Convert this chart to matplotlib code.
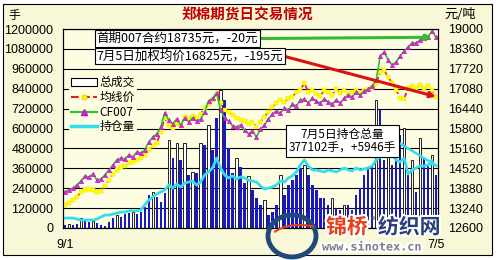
import matplotlib
matplotlib.use('Agg')
import matplotlib.pyplot as plt
import matplotlib.patches as mpatches
import matplotlib.patheffects as pe
from matplotlib.lines import Line2D
from matplotlib.ticker import FuncFormatter
import numpy as np

plt.rcParams['font.family'] = ['Noto Sans CJK SC', 'DejaVu Sans']

# daily data, 9/1 .. 7/5
date_labels = ['9/1', '7/5']

cf007 = [13760, 13820, 13885, 13985, 14110, 14270, 14240, 14335, 14145, 14175,
         14305, 14465, 14625, 14785, 14850, 14820, 14950, 14885, 15045, 15010,
         15110, 15365, 15525, 15625, 15850, 16300, 16075, 15945, 16105, 15910,
         16140, 16010, 16140, 16040, 16105, 16330, 16685, 16780, 16940, 16395,
         16140, 16040, 15880, 15850, 15910, 15750, 15625, 15720, 15525, 15785,
         15910, 16105, 16265, 16365, 16300, 16460, 16395, 16590, 16525, 16715,
         16750, 16620, 16780, 16685, 16620, 16750, 16650, 16590, 16715, 16620,
         16780, 16875, 16815, 16975, 16875, 17005, 17070, 17165, 17360, 18130,
         18260, 18005, 17840, 17940, 18130, 18290, 18420, 18550, 18550, 18645,
         18710, 18745, 18935, 18735]

avg_price = [13340, 13405, 13500, 13595, 13760, 13820, 13855, 13820, 13760, 13790,
             13950, 14145, 14335, 14465, 14560, 14595, 14690, 14725, 14785, 14850,
             14950, 15110, 15235, 15335, 15685, 16140, 15910, 15815, 15945, 15880,
             16170, 16105, 16200, 16140, 16265, 16460, 16590, 16715, 16940, 16620,
             16395, 16330, 16235, 16140, 16075, 16040, 15945, 16010, 15850, 16010,
             16170, 16330, 16490, 16620, 16715, 16650, 16780, 16815, 16975, 17040,
             17265, 16975, 17040, 16910, 16845, 17040, 16975, 16875, 17070, 16940,
             17040, 16910, 16975, 17040, 16940, 17005, 17070, 17100, 17230, 17615,
             17680, 17455, 17265, 17040, 16780, 16750, 17100, 17165, 17100, 17200,
             17100, 17165, 17040, 16825]

open_interest = [60000, 60000, 60000, 54000, 48000, 48000, 48000, 48000, 54000, 66000,
                 78000, 78000, 84000, 90000, 96000, 96000, 103000, 103000, 103000, 109000,
                 139000, 169000, 187000, 205000, 217000, 229000, 259000, 241000, 265000, 247000,
                 271000, 277000, 283000, 259000, 277000, 320000, 338000, 362000, 422000, 362000,
                 320000, 302000, 314000, 295000, 308000, 302000, 289000, 283000, 277000, 253000,
                 235000, 241000, 247000, 259000, 283000, 277000, 302000, 314000, 338000, 380000,
                 410000, 374000, 350000, 350000, 344000, 338000, 350000, 344000, 338000, 350000,
                 362000, 350000, 344000, 362000, 350000, 356000, 362000, 374000, 410000, 428000,
                 440000, 458000, 440000, 410000, 398000, 422000, 326000, 350000, 362000, 374000,
                 374000, 380000, 392000, 377102]

volume = [18000, 24000, 18000, 24000, 60000, 48000, 36000, 42000, 30000, 18000,
          12000, 36000, 60000, 78000, 66000, 84000, 90000, 96000, 84000, 96000,
          127000, 199000, 217000, 187000, 157000, 211000, 531000, 422000, 513000, 410000,
          513000, 320000, 338000, 332000, 513000, 500000, 621000, 470000, 663000, 832000,
          772000, 482000, 332000, 422000, 368000, 271000, 314000, 229000, 181000, 139000,
          169000, 78000, 96000, 139000, 320000, 199000, 259000, 289000, 320000, 362000,
          380000, 320000, 259000, 229000, 181000, 181000, 139000, 181000, 121000, 109000,
          139000, 139000, 109000, 199000, 241000, 320000, 362000, 380000, 772000, 712000,
          410000, 500000, 380000, 519000, 561000, 603000, 320000, 410000, 217000, 543000,
          422000, 380000, 440000, 320000]

note_contract = '首期007合约18735元，-20元'
note_avg = '7月5日加权均价16825元，-195元'
note_oi = '7月5日持仓总量\n377102手，+5946手'

BG = '#F8F8D8'
PLOT_BG = '#FDFDE2'
W, H = 496, 260

fig = plt.figure(figsize=(W / 100, H / 100), dpi=100, facecolor='white')
frame = mpatches.Rectangle((3 / W, 1 - 255 / H), 489 / W, 251 / H, transform=fig.transFigure,
                           facecolor=BG, edgecolor='black', lw=0.8, zorder=-1)
fig.patches.append(frame)

ax = fig.add_axes([63 / W, 1 - 228 / H, 375 / W, 199 / H])
ax.set_facecolor(PLOT_BG)
x = np.arange(len(volume))
vol = np.array(volume)
# white bars on local volume peaks, blue otherwise
prev = np.r_[vol[0], vol[:-1]]
nxt = np.r_[vol[1:], vol[-1]]
peak = (vol > prev) & (vol >= nxt)

# volume bars + open interest (left axis)
ax.bar(x[~peak], vol[~peak], width=0.6, color='#1818C8', lw=0, zorder=2)
ax.bar(x[peak], vol[peak], width=0.6, facecolor='white', edgecolor='black', lw=0.6, zorder=2)
ax.plot(x, open_interest, color='#33DDEE', lw=2, zorder=3)
ax.set_ylim(0, 1200000)
ax.set_yticks(np.arange(0, 1200001, 120000))
ax.yaxis.set_major_formatter(FuncFormatter(lambda v, _: f'{int(round(v))}'))
ax.set_xlim(-0.5, len(x) - 0.5)
ax.set_xticks([0, len(x) - 1])
ax.set_xticklabels(date_labels)
ax.yaxis.grid(True, color='black', lw=0.8)
ax.set_axisbelow(True)
ax.tick_params(axis='y', length=0, pad=7)
ax.tick_params(axis='x', length=0, pad=8)

ax.annotate(note_oi, xy=(x[-1], open_interest[-1]), xytext=(0.745, 0.437),
            textcoords='axes fraction', ha='center', va='center', fontsize=8.5,
            linespacing=1.1, zorder=6,
            bbox=dict(boxstyle='square,pad=0.25', fc='white', ec='black', lw=0.8),
            arrowprops=dict(arrowstyle='-|>', color='#33DDEE', lw=1.8, mutation_scale=7,
                            relpos=(1.0, 0.5), shrinkA=0, shrinkB=0))

# prices (right axis)
ax2 = ax.twinx()
ax2.plot(x, avg_price, color='#DD2020', lw=1.2, ls=(0, (3, 1.5)), marker='s', ms=2.5,
         mfc='#FFFF00', mec='#EEDD00', mew=0.3, zorder=2)
ax2.plot(x, cf007, color='#22CC22', lw=1.2, marker='^', ms=3.3,
         mfc='#E020E0', mec='#C010C0', mew=0.3, zorder=2)
ax2.set_ylim(12600, 19000)
ax2.set_yticks(np.arange(12600, 19001, 640))
ax2.tick_params(axis='y', length=0, pad=7)

box = dict(boxstyle='square,pad=0.15', fc='white', ec='black', lw=0.8)
ax2.annotate(note_contract, xy=(x[-2], cf007[-1]), xytext=(0.09, 0.952),
             textcoords='axes fraction', ha='left', va='center', fontsize=9, zorder=6,
             bbox=box,
             arrowprops=dict(arrowstyle='-|>', color='#33BB33', lw=2.2, mutation_scale=8,
                             relpos=(1.0, 0.5), shrinkA=0, shrinkB=0))
ax2.annotate(note_avg, xy=(x[-1], avg_price[-1]), xytext=(0.09, 0.864),
             textcoords='axes fraction', ha='left', va='center', fontsize=9, zorder=6,
             bbox=box,
             arrowprops=dict(arrowstyle='-|>', color='#DD1111', lw=2.2, mutation_scale=8,
                             relpos=(1.0, 0.5), shrinkA=0, shrinkB=0))

handles = [
    mpatches.Patch(facecolor='white', edgecolor='black', lw=0.8, label='总成交'),
    Line2D([], [], color='#DD2020', lw=1.5, ls='--', marker='s', ms=3,
           mfc='#FFFF00', mec='#EEDD00', label='均线价'),
    Line2D([], [], color='#22CC22', lw=1.5, marker='^', ms=4,
           mfc='#E020E0', mec='#C010C0', label='CF007'),
    Line2D([], [], color='#33DDEE', lw=2.5, label='持仓量'),
]
ax2.legend(handles=handles, loc='upper left', bbox_to_anchor=(0.015, 0.775), fontsize=8.5,
           frameon=True, facecolor=PLOT_BG, edgecolor='none', framealpha=1, fancybox=False,
           handlelength=2.2, handletextpad=0.2, labelspacing=0.15, borderpad=0.2,
           borderaxespad=0)

for a in (ax, ax2):
    for s in a.spines.values():
        s.set_color('black')
        s.set_linewidth(0.8)
for lab in ax.get_yticklabels() + ax2.get_yticklabels() + ax.get_xticklabels():
    lab.set_fontfamily('Liberation Sans')
    lab.set_fontsize(9)

# header texts
fig.text(247 / W, 1 - 15 / H, '郑棉期货日交易情况', ha='center', va='center',
         fontsize=10.5, fontweight='bold', color='#C00000')
fig.text(8 / W, 1 - 16 / H, '手', ha='left', va='center', fontsize=8.5)
fig.text(444 / W, 1 - 15 / H, '元/吨', ha='left', va='center', fontsize=9.5)

# site watermark
glow = [pe.withStroke(linewidth=3, foreground='white')]
logo = mpatches.Ellipse((292 / W, 1 - 236 / H), 48 / W, 42 / H, transform=fig.transFigure,
                        facecolor='none', edgecolor='#1E4A78', lw=3.5, zorder=5)
fig.patches.append(logo)
swoosh = mpatches.Arc((300 / W, 1 - 240 / H), 60 / W, 30 / H, theta1=60, theta2=150,
                      transform=fig.transFigure, color='#E5401A', lw=1.5, zorder=6)
fig.patches.append(swoosh)
fig.text(326 / W, 1 - 227 / H, '锦桥', ha='left', va='center', fontsize=15,
         fontweight='bold', color='#E5401A', path_effects=glow, zorder=6)
fig.text(371 / W, 1 - 221 / H, '®', ha='left', va='center', fontsize=6,
         color='#555555', zorder=6)
fig.text(378 / W, 1 - 227 / H, '纺织网', ha='left', va='center', fontsize=15,
         fontweight='bold', color='#2A3F7A', path_effects=glow, zorder=6)
fig.text(322 / W, 1 - 247 / H, 'www.sinotex.cn', ha='left', va='center', fontsize=8.5,
         family='DejaVu Sans Mono', fontweight='bold', color='#7A8088',
         path_effects=glow, zorder=6)

fig.savefig('out.png', dpi=100, facecolor='white')
